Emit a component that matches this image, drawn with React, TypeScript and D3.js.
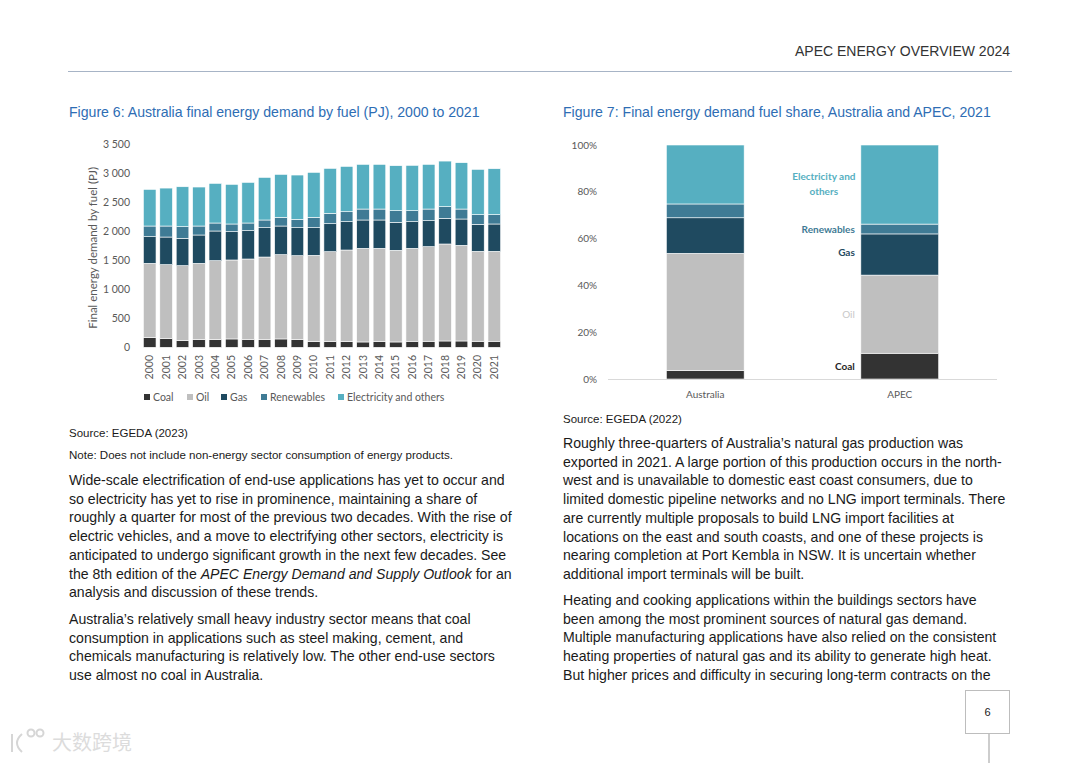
import React from 'react';
import * as d3 from 'd3';

// Figure 6 data (PJ)
const years = ['2000','2001','2002','2003','2004','2005','2006','2007','2008','2009','2010','2011','2012','2013','2014','2015','2016','2017','2018','2019','2020','2021'];
const coal = [167,155,115,132,132,144,138,138,144,132,98,98,98,92,98,92,104,104,109,109,104,104];
const oil = [1282,1271,1294,1317,1363,1363,1386,1420,1455,1449,1489,1552,1581,1616,1610,1582,1604,1633,1674,1651,1552,1552];
const gas = [460,477,471,489,512,488,489,506,494,483,477,483,489,489,489,482,460,448,442,454,466,472];
const renewables = [184,190,202,155,138,133,132,133,150,144,179,179,172,189,189,202,190,201,202,172,167,161];
const electricity = [632,655,689,673,684,684,701,735,741,765,776,776,782,771,771,776,782,771,787,800,782,793];
const yTicks = [0,500,1000,1500,2000,2500,3000,3500];

// Figure 7 data (% share, 2021)
const regions = ['Australia','APEC'];
const shareCoal = [3.6,11.0];
const shareOil = [50.1,33.4];
const shareGas = [15.2,17.6];
const shareRenewables = [5.9,4.2];
const shareElectricity = [25.2,33.8];
const pctTicks = [0,20,40,60,80,100];

const fuels = ['Coal','Oil','Gas','Renewables','Electricity and others'];
const colors = ['#333333','#bfbfbf','#1f4a60','#3f7b95','#56afc1'];

const leftText = [
  ['Wide-scale electrification of end-use applications has yet to occur and',
   'so electricity has yet to rise in prominence, maintaining a share of',
   'roughly a quarter for most of the previous two decades. With the rise of',
   'electric vehicles, and a move to electrifying other sectors, electricity is',
   'anticipated to undergo significant growth in the next few decades. See',
   '__OUTLOOK__',
   'analysis and discussion of these trends.'],
  ['Australia\u2019s relatively small heavy industry sector means that coal',
   'consumption in applications such as steel making, cement, and',
   'chemicals manufacturing is relatively low. The other end-use sectors',
   'use almost no coal in Australia.'],
];
const rightText = [
  ['Roughly three-quarters of Australia\u2019s natural gas production was',
   'exported in 2021. A large portion of this production occurs in the north-',
   'west and is unavailable to domestic east coast consumers, due to',
   'limited domestic pipeline networks and no LNG import terminals. There',
   'are currently multiple proposals to build LNG import facilities at',
   'locations on the east and south coasts, and one of these projects is',
   'nearing completion at Port Kembla in NSW. It is uncertain whether',
   'additional import terminals will be built.'],
  ['Heating and cooking applications within the buildings sectors have',
   'been among the most prominent sources of natural gas demand.',
   'Multiple manufacturing applications have also relied on the consistent',
   'heating properties of natural gas and its ability to generate high heat.',
   'But higher prices and difficulty in securing long-term contracts on the'],
];

const chartFont = 'Lato, "Open Sans", sans-serif';
const bodyFont = '"Liberation Sans", Arial, sans-serif';

const Paragraphs: React.FC<{ x: number; starts: number[]; paras: string[][] }> = ({ x, starts, paras }) => (
  <g fontFamily={bodyFont} fontSize={14.1} fill="#1a1a1a">
    {paras.map((p, pi) =>
      p.map((line, li) => {
        const y = starts[pi] + li * 18.7;
        if (line === '__OUTLOOK__') {
          return (
            <text key={`${pi}-${li}`} x={x} y={y}>
              the 8th edition of the <tspan fontStyle="italic">APEC Energy Demand and Supply Outlook</tspan> for an
            </text>
          );
        }
        return <text key={`${pi}-${li}`} x={x} y={y}>{line}</text>;
      })
    )}
  </g>
);

const App: React.FC = () => {
  // Figure 6 scales
  const rows = years.map((yr, i) => ({
    year: yr,
    Coal: coal[i],
    Oil: oil[i],
    Gas: gas[i],
    Renewables: renewables[i],
    'Electricity and others': electricity[i],
  }));
  const stack = d3.stack<any>().keys(fuels);
  const series = stack(rows);
  const x1 = d3.scaleBand<string>().domain(years).range([141.5, 502.5]).paddingInner(0.23).paddingOuter(0.115);
  const y1 = d3.scaleLinear().domain([0, 3500]).range([347.3, 144.5]);
  const fmt = (v: number) => d3.format(',')(v).replace(',', ' ');

  // Figure 7 scales
  const rows2 = regions.map((r, i) => ({
    region: r,
    Coal: shareCoal[i],
    Oil: shareOil[i],
    Gas: shareGas[i],
    Renewables: shareRenewables[i],
    'Electricity and others': shareElectricity[i],
  }));
  const series2 = stack(rows2);
  const x2 = d3.scaleBand<string>().domain(regions).range([608, 997]).paddingInner(0.6).paddingOuter(0.3);
  const y2 = d3.scaleLinear().domain([0, 100]).range([379, 145]);

  const legendItems = [
    { x: 145, label: 'Coal' },
    { x: 188, label: 'Oil' },
    { x: 222, label: 'Gas' },
    { x: 262, label: 'Renewables' },
    { x: 339, label: 'Electricity and others' },
  ];

  // APEC inline labels, placed at the middle of each segment
  const apecX = (x2('APEC') as number) - 6;
  const mid = (k: number) => {
    const s = series2[k][1];
    return (y2(s[0]) + y2(s[1])) / 2;
  };

  return (
    <div style={{ position: 'absolute', left: 0, top: 0 }}>
      <svg width={1080} height={763} style={{ display: 'block', background: '#fff' }}>
        {/* header */}
        <text x={1010} y={56} textAnchor="end" fontFamily={bodyFont} fontSize={14} fill="#333">APEC ENERGY OVERVIEW 2024</text>
        <line x1={68} x2={1012} y1={71.5} y2={71.5} stroke="#a7b4c6" strokeWidth={1} />

        {/* Figure 6 */}
        <text x={69} y={117} fontFamily={bodyFont} fontSize={14.1} fill="#2e6db4">Figure 6: Australia final energy demand by fuel (PJ), 2000 to 2021</text>
        <g fontFamily={chartFont} fontSize={10.5} fill="#595959">
          {yTicks.map(t => (
            <text key={t} x={130} y={y1(t) + 3.6} textAnchor="end">{fmt(t)}</text>
          ))}
          <text transform={`translate(97,${(y1(0) + y1(3500)) / 2 + 2}) rotate(-90)`} textAnchor="middle" fontSize={11.5}>Final energy demand  by fuel (PJ)</text>
          {years.map(yr => (
            <text key={yr} transform={`translate(${(x1(yr) as number) + x1.bandwidth() / 2 + 3.6},355) rotate(-90)`} textAnchor="end">{yr}</text>
          ))}
        </g>
        {series.map((s, k) => (
          <g key={s.key} fill={colors[k]}>
            {s.map((d: any) => (
              <rect key={d.data.year} x={x1(d.data.year)} width={x1.bandwidth()} y={y1(d[1])} height={y1(d[0]) - y1(d[1])} stroke="#fff" strokeWidth={0.6} />
            ))}
          </g>
        ))}
        <g fontFamily={chartFont} fontSize={10.5} fill="#595959">
          {legendItems.map((it, k) => (
            <g key={it.label}>
              <rect x={it.x - 1} y={394} width={6} height={6} fill={colors[k]} />
              <text x={it.x + 8} y={401}>{it.label}</text>
            </g>
          ))}
        </g>
        <text x={69} y={437} fontFamily={bodyFont} fontSize={11.5} fill="#1a1a1a">Source: EGEDA (2023)</text>
        <text x={69} y={459} fontFamily={bodyFont} fontSize={11.5} fill="#1a1a1a" textLength={384} lengthAdjust="spacingAndGlyphs">Note: Does not include non-energy sector consumption of energy products.</text>
        <Paragraphs x={69} starts={[485, 624]} paras={leftText} />

        {/* Figure 7 */}
        <text x={563} y={117} fontFamily={bodyFont} fontSize={14.1} fill="#2e6db4">Figure 7: Final energy demand fuel share, Australia and APEC, 2021</text>
        <g fontFamily={chartFont} fontSize={10} fill="#595959">
          {pctTicks.map(t => (
            <text key={t} x={597} y={y2(t) + 3.5} textAnchor="end">{t}%</text>
          ))}
          {regions.map(r => (
            <text key={r} x={(x2(r) as number) + x2.bandwidth() / 2} y={398} textAnchor="middle">{r}</text>
          ))}
        </g>
        {series2.map((s, k) => (
          <g key={s.key} fill={colors[k]}>
            {s.map((d: any) => (
              <rect key={d.data.region} x={x2(d.data.region)} width={x2.bandwidth()} y={y2(d[1])} height={y2(d[0]) - y2(d[1])} stroke="#fff" strokeWidth={0.6} />
            ))}
          </g>
        ))}
        <line x1={608} x2={997} y1={379.5} y2={379.5} stroke="#d9d9d9" strokeWidth={1} />
        <g fontFamily={chartFont} fontSize={10} fontWeight="bold" textAnchor="end">
          <text x={apecX} y={mid(0) + 3.5} fill="#262626">Coal</text>
          <text x={apecX} y={mid(1) + 3.5} fill="#c8c8c8" fontWeight="normal">Oil</text>
          <text x={apecX} y={mid(2) + 1.5} fill="#1f4a60">Gas</text>
          <text x={apecX} y={y2(shareCoal[1] + shareOil[1] + shareGas[1] + shareRenewables[1] / 2) + 3.5} fill="#3f7b95">Renewables</text>
          <text x={apecX - 31} y={180} fill="#56afc1" textAnchor="middle">Electricity and</text>
          <text x={apecX - 31} y={195} fill="#56afc1" textAnchor="middle">others</text>
        </g>
        <text x={563} y={423} fontFamily={bodyFont} fontSize={11.5} fill="#1a1a1a">Source: EGEDA (2022)</text>
        <Paragraphs x={563} starts={[448, 605]} paras={rightText} />

        {/* page number */}
        <rect x={965.5} y={690.5} width={44} height={43} fill="#fff" stroke="#bdbdbd" strokeWidth={1} />
        <text x={987.5} y={716} textAnchor="middle" fontFamily={bodyFont} fontSize={11} fill="#1a1a1a">6</text>
        <line x1={989} x2={989} y1={734} y2={763} stroke="#bdbdbd" strokeWidth={1.5} />

        {/* watermark */}
        <g fill="none" stroke="#d6d6d6" strokeWidth={2}>
          <path d="M12,734 L12,752 M22,734 Q12,743 22,752" />
          <circle cx={31} cy={733} r={3.5} />
          <circle cx={40} cy={733} r={3.5} />
        </g>
        <text x={52} y={750} fontFamily='"Noto Sans CJK SC", sans-serif' fontSize={20} fill="#dcdcdc">大数跨境</text>
      </svg>
    </div>
  );
};

export default App;
